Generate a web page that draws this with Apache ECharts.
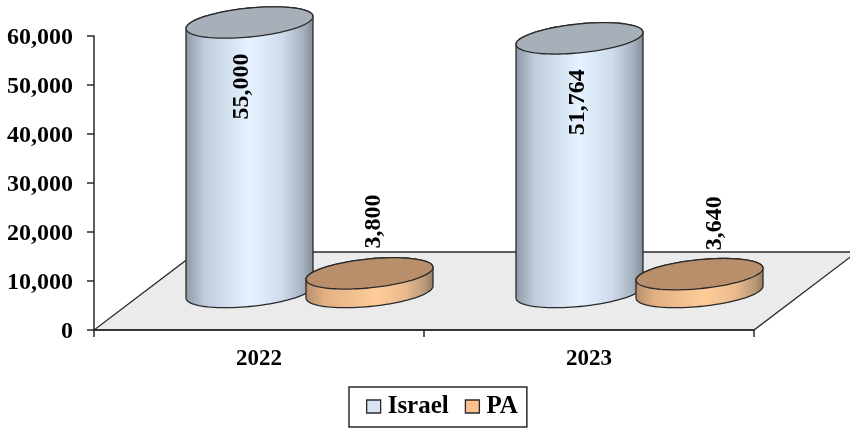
<!DOCTYPE html>
<html>
<head>
<meta charset="utf-8">
<script src="https://cdn.jsdelivr.net/npm/echarts@6/dist/echarts.min.js"></script>
<style>html,body{margin:0;padding:0;background:#fff}#c{width:850px;height:429px}</style>
</head>
<body>
<div id="c"></div>
<script>
const categories = ['2022', '2023'];
const israelValues = [55000, 51764];
const paValues = [3800, 3640];
const yMax = 60000;
const yStep = 10000;

// Oblique projection of the chart floor
const FLOOR_DX = 103, FLOOR_DY = 78;
const BASE_DX = 50.5, BASE_DY = 38;
// Cylinder footprint: half-width, half-depth, and skew of the ellipse
const RX = 63.5, RY = 14.5, SKEW = 6;
const FONT = '"Liberation Serif", "Times New Roman", serif';

function ellipsePoint(cx, cy, t) {
  return [cx + RX * Math.cos(t), cy + RY * Math.sin(t) - SKEW * Math.cos(t)];
}
function arc(cx, cy, from, to, steps) {
  const pts = [];
  for (let i = 0; i <= steps; i++) pts.push(ellipsePoint(cx, cy, from + (to - from) * i / steps));
  return pts;
}

function cylinderSeries(name, values, look) {
  return {
    name, type: 'custom', z: 3, silent: true, clip: false,
    encode: { x: 0, y: 1 },
    data: values.map((v, i) => [i, v]),
    renderItem(params, api) {
      const i = api.value(0), v = api.value(1);
      const top = api.coord([i, v]);
      const base = api.coord([i, 0]);
      const cx = top[0] + BASE_DX + look.slot;
      const topY = top[1] - BASE_DY;
      const baseY = base[1] - BASE_DY;
      const stroke = { stroke: '#2a2a2a', lineWidth: 1.3 };
      const side = arc(cx, baseY, 0, Math.PI, 48).concat(arc(cx, topY, Math.PI, 2 * Math.PI, 48));
      return {
        type: 'group',
        children: [
          {
            type: 'polygon',
            shape: { points: side },
            style: Object.assign({
              fill: new echarts.graphic.LinearGradient(0, 0, 1, 0, look.side)
            }, stroke)
          },
          {
            type: 'polygon',
            shape: { points: arc(cx, topY, 0, 2 * Math.PI, 96) },
            style: Object.assign({ fill: look.cap }, stroke)
          },
          {
            type: 'text',
            x: cx + look.labelDx[i],
            y: topY + look.labelDy[i],
            rotation: Math.PI / 2,
            style: {
              text: v.toLocaleString('en-US'),
              font: 'bold 24px ' + FONT,
              fill: '#000',
              align: 'center',
              verticalAlign: 'middle'
            }
          }
        ]
      };
    }
  };
}

const israelLook = {
  slot: -60,
  cap: '#a7afb8',
  side: [
    { offset: 0, color: '#8d98a5' },
    { offset: 0.15, color: '#bfcddd' },
    { offset: 0.5, color: '#e6f2ff' },
    { offset: 0.75, color: '#cfdcec' },
    { offset: 0.92, color: '#a5b0bd' },
    { offset: 1, color: '#808b97' }
  ],
  labelDx: [-8, -1.5],
  labelDy: [64, 64]
};
const paLook = {
  slot: 60,
  cap: '#b98f6b',
  side: [
    { offset: 0, color: '#b58f6e' },
    { offset: 0.15, color: '#e2b083' },
    { offset: 0.55, color: '#ffcc99' },
    { offset: 0.78, color: '#e8ba8c' },
    { offset: 0.93, color: '#b99a78' },
    { offset: 1, color: '#957a5f' }
  ],
  labelDx: [4.5, 15.5],
  labelDy: [-52, -51]
};

const floorSeries = {
  type: 'custom', z: 1, silent: true, clip: false,
  data: [[0, 0]],
  encode: { x: 0, y: 1 },
  renderItem(params, api) {
    const g = params.coordSys;
    const bottom = g.y + g.height;
    return {
      type: 'polygon',
      shape: {
        points: [
          [g.x, bottom],
          [g.x + g.width, bottom],
          [g.x + g.width + FLOOR_DX, bottom - FLOOR_DY],
          [g.x + FLOOR_DX, bottom - FLOOR_DY]
        ]
      },
      style: { fill: '#ebebeb', stroke: '#2a2a2a', lineWidth: 1.3 }
    };
  }
};

const chart = echarts.init(document.getElementById('c'));
chart.setOption({
  animation: false,
  backgroundColor: '#fff',
  grid: { left: 94, right: 96, top: 36, bottom: 99, containLabel: false },
  xAxis: {
    type: 'category',
    data: categories,
    z: 2,
    axisLine: { lineStyle: { color: '#2a2a2a', width: 1.5 } },
    axisTick: { show: true, length: 7, alignWithLabel: false, lineStyle: { color: '#2a2a2a', width: 1.5 } },
    axisLabel: { color: '#000', fontFamily: FONT, fontSize: 23, fontWeight: 'bold', margin: 18 }
  },
  yAxis: {
    type: 'value',
    min: 0,
    max: yMax,
    interval: yStep,
    z: 2,
    splitLine: { show: false },
    axisLine: { show: true, lineStyle: { color: '#2a2a2a', width: 1.5 } },
    axisTick: { show: true, length: 7, lineStyle: { color: '#2a2a2a', width: 1.5 } },
    axisLabel: {
      margin: 21,
      formatter: v => '{tick|' + v.toLocaleString('en-US') + '}',
      rich: {
        tick: { color: '#000', fontFamily: FONT, fontSize: 24, fontWeight: 'bold', padding: [4, 0, 0, 0] }
      }
    }
  },
  legend: {
    left: 349,
    top: 387,
    orient: 'horizontal',
    padding: [7, 9, 8, 17],
    itemGap: 16,
    itemWidth: 14,
    itemHeight: 13,
    borderColor: '#2a2a2a',
    borderWidth: 1.5,
    icon: 'rect',
    textStyle: { color: '#000', fontFamily: FONT, fontSize: 25, fontWeight: 'bold', padding: [0, 0, 0, 2] },
    data: [
      { name: 'Israel', itemStyle: { color: '#d6e3f1', borderColor: '#2a2a2a', borderWidth: 1.3 } },
      { name: 'PA', itemStyle: { color: '#fdc08c', borderColor: '#2a2a2a', borderWidth: 1.3 } }
    ]
  },
  series: [
    floorSeries,
    cylinderSeries('Israel', israelValues, israelLook),
    cylinderSeries('PA', paValues, paLook)
  ]
});
</script>
</body>
</html>
